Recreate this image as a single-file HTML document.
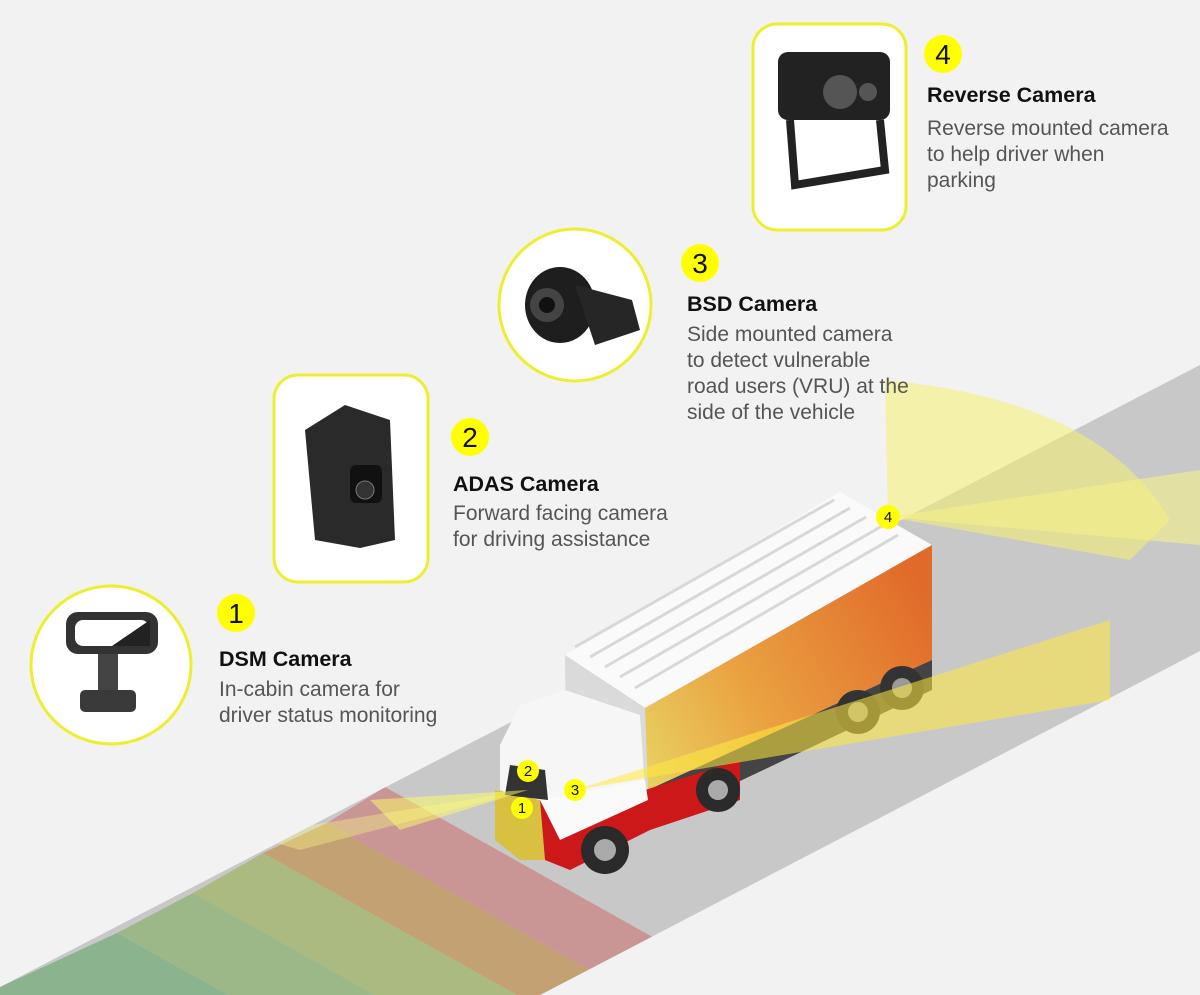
<!DOCTYPE html>
<html><head><meta charset="utf-8"><style>
html,body{margin:0;padding:0;background:#f2f2f2;overflow:hidden;width:1200px;height:995px;}
svg{display:block;}
.t{font-family:"Liberation Sans",Arial,sans-serif;}
.h{font-weight:bold;font-size:21.5px;fill:#111;}
.d{font-size:21px;fill:#555;}
.n{font-size:28px;fill:#111;text-anchor:middle;}
.s{font-size:15px;fill:#111;text-anchor:middle;}
</style></head><body>
<svg width="1200" height="995" viewBox="0 0 1200 995" xmlns="http://www.w3.org/2000/svg">
<defs>
<linearGradient id="side" x1="640" y1="760" x2="930" y2="600" gradientUnits="userSpaceOnUse">
<stop offset="0" stop-color="#e8d060"/>
<stop offset="0.4" stop-color="#eaa040"/>
<stop offset="1" stop-color="#e06a2a"/>
</linearGradient>
</defs>
<rect width="1200" height="995" fill="#f2f2f2"/>
<!-- road -->
<polygon points="0,987 1200,365 1200,651 540,995 0,995" fill="#c8c8c8"/>
<clipPath id="rc"><polygon points="0,987 1200,365 1200,651 540,995 0,995"/></clipPath>
<g clip-path="url(#rc)">
<polygon points="385,787 756,995 634,995 327,823" fill="#c99595"/>
<polygon points="327,823 634,995 517,995 263,853" fill="#c4a172"/>
<polygon points="263,853 517,995 375,995 193,893" fill="#aaba80"/>
<polygon points="193,893 375,995 228,995 117,933" fill="#9cb888"/>
<polygon points="117,933 228,995 0,995 0,987" fill="#8bb48e"/>
<polygon points="528,790 250,835 300,850" fill="#ffff88" opacity="0.35"/>
</g>
<!-- rear yellow fan -->
<path d="M888,517 L885,380 Q1100,400 1170,520 L1130,560 Z" fill="#f4f070" opacity="0.55"/>
<path d="M888,517 L1200,470 L1200,545 Z" fill="#f5f08a" opacity="0.6"/>
<!-- truck container -->
<polygon points="565,655 840,492 932,545 645,708" fill="#fafafa"/>
<g stroke="#d8d8d8" stroke-width="3">
<line x1="590" y1="657" x2="850" y2="508"/><line x1="605" y1="667" x2="866" y2="517"/>
<line x1="620" y1="677" x2="882" y2="526"/><line x1="635" y1="688" x2="898" y2="535"/>
<line x1="575" y1="647" x2="834" y2="500"/>
</g>
<polygon points="645,708 932,545 932,660 648,790" fill="url(#side)"/>
<polygon points="565,655 645,708 648,790 566,745" fill="#dadada"/>
<!-- trailer wheels -->
<polygon points="648,790 932,660 932,690 700,800" fill="#444"/>
<circle cx="902" cy="688" r="22" fill="#333"/><circle cx="902" cy="688" r="10" fill="#999"/>
<circle cx="858" cy="712" r="22" fill="#333"/><circle cx="858" cy="712" r="10" fill="#999"/>
<!-- cab -->
<polygon points="500,745 520,705 565,690 640,715 645,790 580,820 500,790" fill="#f6f6f6"/>
<polygon points="495,790 540,800 545,860 520,860 495,840" fill="#d8c040"/>
<polygon points="540,800 645,790 740,760 740,800 650,830 570,870 545,860" fill="#cc1818"/>
<polygon points="540,800 645,780 648,800 560,840" fill="#fafafa"/>
<polygon points="510,765 545,770 548,800 505,795" fill="#333"/>
<circle cx="605" cy="850" r="24" fill="#2a2a2a"/><circle cx="605" cy="850" r="11" fill="#aaa"/>
<circle cx="718" cy="790" r="22" fill="#2a2a2a"/><circle cx="718" cy="790" r="10" fill="#aaa"/>
<!-- front cones -->
<polygon points="528,790 370,800 400,830" fill="#ffff66" opacity="0.5"/>
<polygon points="575,790 1110,620 1110,700" fill="#ffe940" opacity="0.55"/>
<!-- truck badges -->
<g class="t">
<circle cx="528" cy="771" r="11" fill="#ffff00"/><text class="s" x="528" y="776">2</text>
<circle cx="522" cy="808" r="11" fill="#ffff00"/><text class="s" x="522" y="813">1</text>
<circle cx="575" cy="790" r="11" fill="#ffff00"/><text class="s" x="575" y="795">3</text>
<circle cx="888" cy="517" r="12" fill="#ffff00"/><text class="s" x="888" y="522">4</text>
</g>
<!-- cards -->
<ellipse cx="111" cy="665" rx="80" ry="79" fill="#fff" stroke="#eeee30" stroke-width="3"/>
<rect x="274" y="375" width="154" height="207" rx="24" fill="#fff" stroke="#eeee30" stroke-width="3"/>
<circle cx="575" cy="305" r="76" fill="#fff" stroke="#eeee30" stroke-width="3"/>
<rect x="753" y="24" width="153" height="206" rx="24" fill="#fff" stroke="#eeee30" stroke-width="3"/>
<!-- camera icons -->
<g>
<rect x="66" y="612" width="92" height="42" rx="12" fill="#333"/>
<rect x="75" y="620" width="74" height="26" rx="8" fill="#fff"/>
<polygon points="112,646 150,620 150,646" fill="#222"/>
<rect x="98" y="654" width="20" height="40" fill="#444"/>
<rect x="80" y="690" width="56" height="22" rx="5" fill="#3a3a3a"/>
<polygon points="305,430 345,405 390,420 395,540 360,548 315,540" fill="#2a2a2a"/>
<rect x="350" y="465" width="32" height="38" rx="6" fill="#111"/>
<circle cx="365" cy="490" r="9" fill="#333" stroke="#777"/>
<ellipse cx="560" cy="305" rx="35" ry="38" fill="#1e1e1e"/>
<circle cx="547" cy="305" r="17" fill="#444"/><circle cx="547" cy="305" r="8" fill="#111"/>
<path d="M575,285 L632,300 L640,330 L595,345 Z" fill="#262626"/>
<rect x="778" y="52" width="112" height="68" rx="10" fill="#222"/>
<circle cx="840" cy="92" r="17" fill="#555"/><circle cx="868" cy="92" r="9" fill="#555"/>
<path d="M790,120 L795,185 L885,170 L880,120" fill="none" stroke="#222" stroke-width="8"/>
</g>
<!-- labels -->
<g class="t">
<circle cx="236" cy="613" r="19" fill="#ffff00"/><text class="n" x="236" y="623">1</text>
<text class="h" x="219" y="666">DSM Camera</text>
<text class="d" x="219" y="696">In-cabin camera for</text>
<text class="d" x="219" y="722">driver status monitoring</text>
<circle cx="470" cy="437" r="19" fill="#ffff00"/><text class="n" x="470" y="447">2</text>
<text class="h" x="453" y="491">ADAS Camera</text>
<text class="d" x="453" y="520">Forward facing camera</text>
<text class="d" x="453" y="546">for driving assistance</text>
<circle cx="700" cy="263" r="19" fill="#ffff00"/><text class="n" x="700" y="273">3</text>
<text class="h" x="687" y="311">BSD Camera</text>
<text class="d" x="687" y="341">Side mounted camera</text>
<text class="d" x="687" y="367">to detect vulnerable</text>
<text class="d" x="687" y="393">road users (VRU) at the</text>
<text class="d" x="687" y="419">side of the vehicle</text>
<circle cx="943" cy="54" r="19" fill="#ffff00"/><text class="n" x="943" y="64">4</text>
<text class="h" x="927" y="102">Reverse Camera</text>
<text class="d" x="927" y="135">Reverse mounted camera</text>
<text class="d" x="927" y="161">to help driver when</text>
<text class="d" x="927" y="187">parking</text>
</g>
</svg>
</body></html>
